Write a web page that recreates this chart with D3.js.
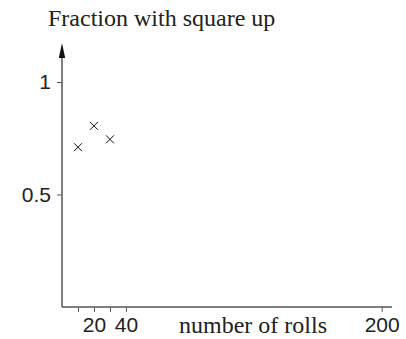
<!DOCTYPE html>
<html>
<head>
<meta charset="utf-8">
<script src="https://cdn.jsdelivr.net/npm/d3@7"></script>
<style>
  body { margin: 0; background: #fff; }
  .serif { font-family: "Liberation Serif", "Times New Roman", serif; fill: #222; }
  .sans { font-family: "Liberation Sans", Arial, sans-serif; fill: #222; }
</style>
</head>
<body>
<div id="chart"></div>
<script>
// Data.
const rolls = [10, 20, 30];
const fractions = [0.71, 0.805, 0.745];
const xTicks = [10, 20, 30, 40, 200];
const xTickLabels = ['', '20', '', '40', '200'];
const yTicks = [0.5, 1];
const yTickLabels = ['0.5', '1'];

const width = 406, height = 339;

// Scales.
const x = d3.scaleLinear().domain([0, 200]).range([62, 381.7]);
const y = d3.scaleLinear().domain([0, 1]).range([306.9, 82]);

const svg = d3.select('#chart')
  .append('svg')
  .attr('width', width)
  .attr('height', height);

const axisColor = '#555';

// Axis lines.
svg.append('line')
  .attr('x1', x(0)).attr('x2', 392)
  .attr('y1', y(0)).attr('y2', y(0))
  .attr('stroke', axisColor).attr('stroke-width', 1.5);

svg.append('line')
  .attr('x1', x(0)).attr('x2', x(0))
  .attr('y1', y(0)).attr('y2', 56)
  .attr('stroke', axisColor).attr('stroke-width', 1.5);

// Arrow head.
svg.append('path')
  .attr('d', `M${x(0)},43 L${x(0) - 3.2},58 L${x(0) + 3.2},58 Z`)
  .attr('fill', '#111');

// X axis.
const xAxis = d3.axisBottom(x)
  .tickValues(xTicks)
  .tickFormat((d, i) => xTickLabels[i])
  .tickSize(5)
  .tickPadding(5);

const xg = svg.append('g')
  .attr('transform', `translate(0,${y(0)})`)
  .call(xAxis);
xg.select('.domain').remove();
xg.selectAll('line').attr('stroke', axisColor);
xg.selectAll('text')
  .attr('class', 'sans')
  .style('font-size', '21px')
  .attr('fill', '#222');

// Y axis.
const yAxis = d3.axisLeft(y)
  .tickValues(yTicks)
  .tickFormat((d, i) => yTickLabels[i])
  .tickSize(5)
  .tickPadding(6);

const yg = svg.append('g')
  .attr('transform', `translate(${x(0)},0)`)
  .call(yAxis);
yg.select('.domain').remove();
yg.selectAll('line').attr('stroke', axisColor);
yg.selectAll('text')
  .attr('class', 'sans')
  .style('font-size', '21px')
  .attr('fill', '#222');

// Markers.
const s = 4;
svg.append('g')
  .selectAll('path')
  .data(rolls.map((r, i) => [r, fractions[i]]))
  .join('path')
  .attr('d', d => {
    const cx = x(d[0]), cy = y(d[1]);
    return `M${cx - s},${cy - s}L${cx + s},${cy + s}M${cx - s},${cy + s}L${cx + s},${cy - s}`;
  })
  .attr('stroke', '#111')
  .attr('stroke-width', 1);

// Labels.
svg.append('text')
  .attr('class', 'serif')
  .attr('x', 48).attr('y', 26)
  .style('font-size', '24px')
  .text('Fraction with square up');

svg.append('text')
  .attr('class', 'serif')
  .attr('x', 179).attr('y', 333)
  .style('font-size', '24px')
  .text('number of rolls');
</script>
</body>
</html>
